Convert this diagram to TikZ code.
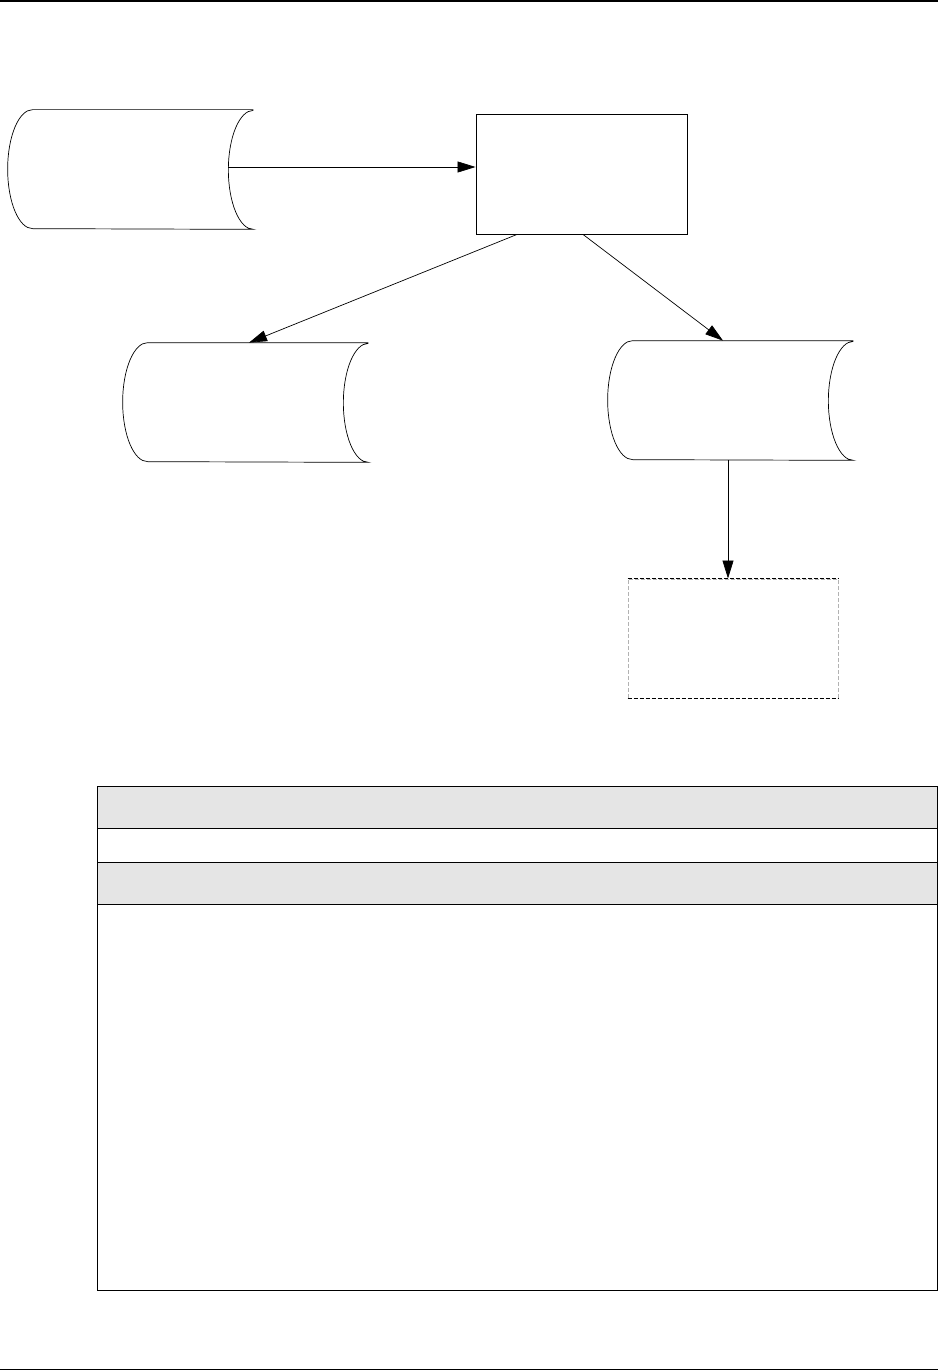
\documentclass[tikz,border=0pt]{standalone}
\usepackage{amsfonts,amsmath,amssymb}
\usepackage{xcolor}
\usepackage{tikz}
\usetikzlibrary{arrows.meta,shapes,positioning}

\tikzset{
  store/.style={rectangle,draw=none,inner sep=0pt,minimum width=220pt,minimum height=119pt},
  procbox/.style={rectangle,draw,line width=.9pt,inner sep=0pt,minimum width=211pt,minimum height=120pt},
  flow/.style={line width=.7pt,-{Triangle[length=18pt,width=11pt]}}
}

\begin{document}
\begin{tikzpicture}[x=1pt,y=1pt,line width=.7pt]
\useasboundingbox (0,0) rectangle (938,-1370);

\draw[line width=2pt] (0,-1)--(938,-1);
\draw[line width=.8pt] (0,-1369)--(938,-1369);

\node[store] (src) at (143,-169.5) {};
\node[procbox] (proc) at (581.5,-174) {};
\node[store] (left) at (258,-402.5) {};
\node[store] (right) at (743,-400.5) {};
\node[rectangle,draw=gray!60,line width=1pt,dash pattern=on 4pt off 2pt,inner sep=0pt,
  minimum width=210pt,minimum height=119pt] (out) at (733,-638.5) {};
\draw[line width=1.5pt,dash pattern=on 4pt off 2pt] (out.north west)--(out.north east)
  (out.south west)--(out.south east);

% stored data outlines
\foreach \n in {src,left,right}
  \draw (\n.north east)--(\n.north west)
    arc[start angle=90,end angle=270,x radius=25,y radius=59.5]
    --(\n.south east)
    arc[start angle=270,end angle=90,x radius=25,y radius=59.5];

\coordinate (srcout) at ([xshift=-25pt,yshift=2.5pt]src.east);
\draw[flow] (srcout)--(srcout -| proc.west);
\draw[flow] ([xshift=-64.5pt]proc.south)--([xshift=-9pt]left.north);
\draw[flow] ([xshift=1.5pt]proc.south)--([xshift=-20pt]right.north);
\draw[flow] ([xshift=-15pt]right.south)--([xshift=-5pt]out.north);

% table
\fill[black!10] (97,-786) rectangle (937,-828) (97,-862) rectangle (937,-904);
\draw[line width=1pt] (97,-786) rectangle (937,-1290);
\foreach \y in {828,862,904}
  \draw[line width=1pt] (97,-\y)--(937,-\y);
\end{tikzpicture}
\end{document}
